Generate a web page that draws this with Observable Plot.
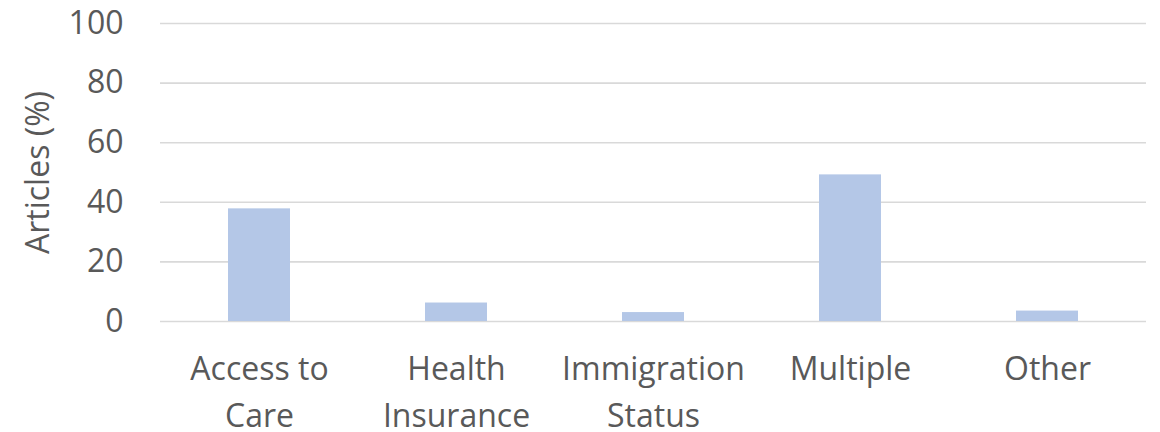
<!DOCTYPE html>
<html>
<head>
<meta charset="utf-8">
<script src="https://cdn.jsdelivr.net/npm/d3@7"></script>
<script src="https://cdn.jsdelivr.net/npm/@observablehq/plot@0.6"></script>
<style>
  body { margin: 0; background: #fff; }
  #chart svg { display: block; }
</style>
</head>
<body>
<div id="chart"></div>
<script>
const categories = ["Access to Care", "Health Insurance", "Immigration Status", "Multiple", "Other"];
const categoryLabels = ["Access to\nCare", "Health\nInsurance", "Immigration\nStatus", "Multiple", "Other"];
const values = [37.8, 6.2, 3.0, 49.2, 3.5];
const yTicks = [0, 20, 40, 60, 80, 100];

const data = categories.map((c, i) => ({category: c, value: values[i]}));
const labelOf = new Map(categories.map((c, i) => [c, categoryLabels[i]]));

const chart = Plot.plot({
  width: 1160,
  height: 432,
  marginLeft: 160,
  marginRight: 14,
  marginTop: 23,
  marginBottom: 111,
  style: {fontFamily: "'Open Sans', sans-serif", fontSize: "32px", color: "#595959", background: "#fff"},
  x: {domain: categories, paddingInner: 0.685, paddingOuter: 0.3425, align: 0.5},
  y: {domain: [0, 100]},
  marks: [
    Plot.ruleY(yTicks, {stroke: "#d9d9d9", strokeWidth: 1.6}),
    Plot.barY(data, {x: "category", y: "value", fill: "#b4c7e7"}),
    Plot.axisY({ticks: yTicks, tickSize: 0, tickPadding: 37, fontSize: 32, fill: "#595959",
      label: "Articles (%)", labelAnchor: "center", labelArrow: "none", labelOffset: 134}),
    Plot.axisX({tickSize: 0, tickPadding: 25, tickFormat: d => labelOf.get(d), lineHeight: 1.47,
      fontSize: 32, fill: "#595959", label: null})
  ]
});
document.getElementById("chart").appendChild(chart);
</script>
</body>
</html>
